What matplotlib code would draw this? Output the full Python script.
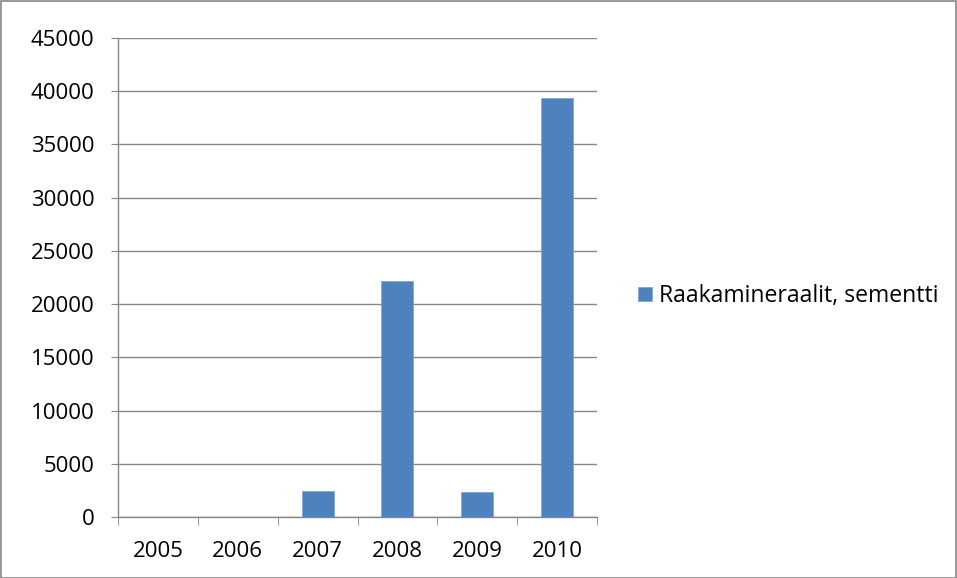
import matplotlib.pyplot as plt
import numpy as np

# 数据
years = ['2005', '2006', '2007', '2008', '2009', '2010']
values = [0, 0, 2450, 22150, 2350, 39400]
label = 'Raakamineraalit, sementti'

plt.rcParams['font.family'] = ['Open Sans', 'DejaVu Sans']
fs = 16

fig = plt.figure(figsize=(9.57, 5.78), dpi=100)
ax = fig.add_axes([118 / 957, 61 / 578, 479 / 957, 479 / 578])

x = np.arange(len(years))
ax.bar(x, values, width=0.4, color='#4f81bd', edgecolor='#7fa6d8', linewidth=0.6,
       label=label, zorder=3)

# 坐标轴
ax.set_xlim(-0.5, len(years) - 0.5)
ax.set_ylim(0, 45000)
ax.set_yticks(np.arange(0, 45001, 5000))
ax.set_yticklabels([str(v) for v in range(0, 45001, 5000)])
ax.set_xticks(x)
ax.set_xticklabels(years)
ax.set_xticks(np.arange(-0.5, len(years), 1), minor=True)

grid_c = '#868686'
ax.yaxis.grid(True, color=grid_c, linewidth=1.0, zorder=0)
for s in ['top', 'right']:
    ax.spines[s].set_visible(False)
for s in ['left', 'bottom']:
    ax.spines[s].set_color(grid_c)
    ax.spines[s].set_linewidth(1.0)

ax.tick_params(axis='y', length=5, color=grid_c, labelsize=fs, pad=12)
ax.tick_params(axis='x', which='major', length=0, labelsize=fs, pad=17)
ax.tick_params(axis='x', which='minor', length=6, color=grid_c)

# 图例
ax.legend(loc='center left', bbox_to_anchor=(638 / 957, 1 - 296 / 578),
          bbox_transform=fig.transFigure, frameon=False, borderpad=0, borderaxespad=0,
          fontsize=16.6, handlelength=0.6, handleheight=0.6, handletextpad=0.3)

# 外框
fig.patches.append(plt.Rectangle((0.5 / 957, 0.5 / 578), 1 - 1.5 / 957, 1 - 1.5 / 578,
                                 transform=fig.transFigure, fill=False,
                                 edgecolor=grid_c, linewidth=1.2))

plt.savefig('out.png', dpi=100)
